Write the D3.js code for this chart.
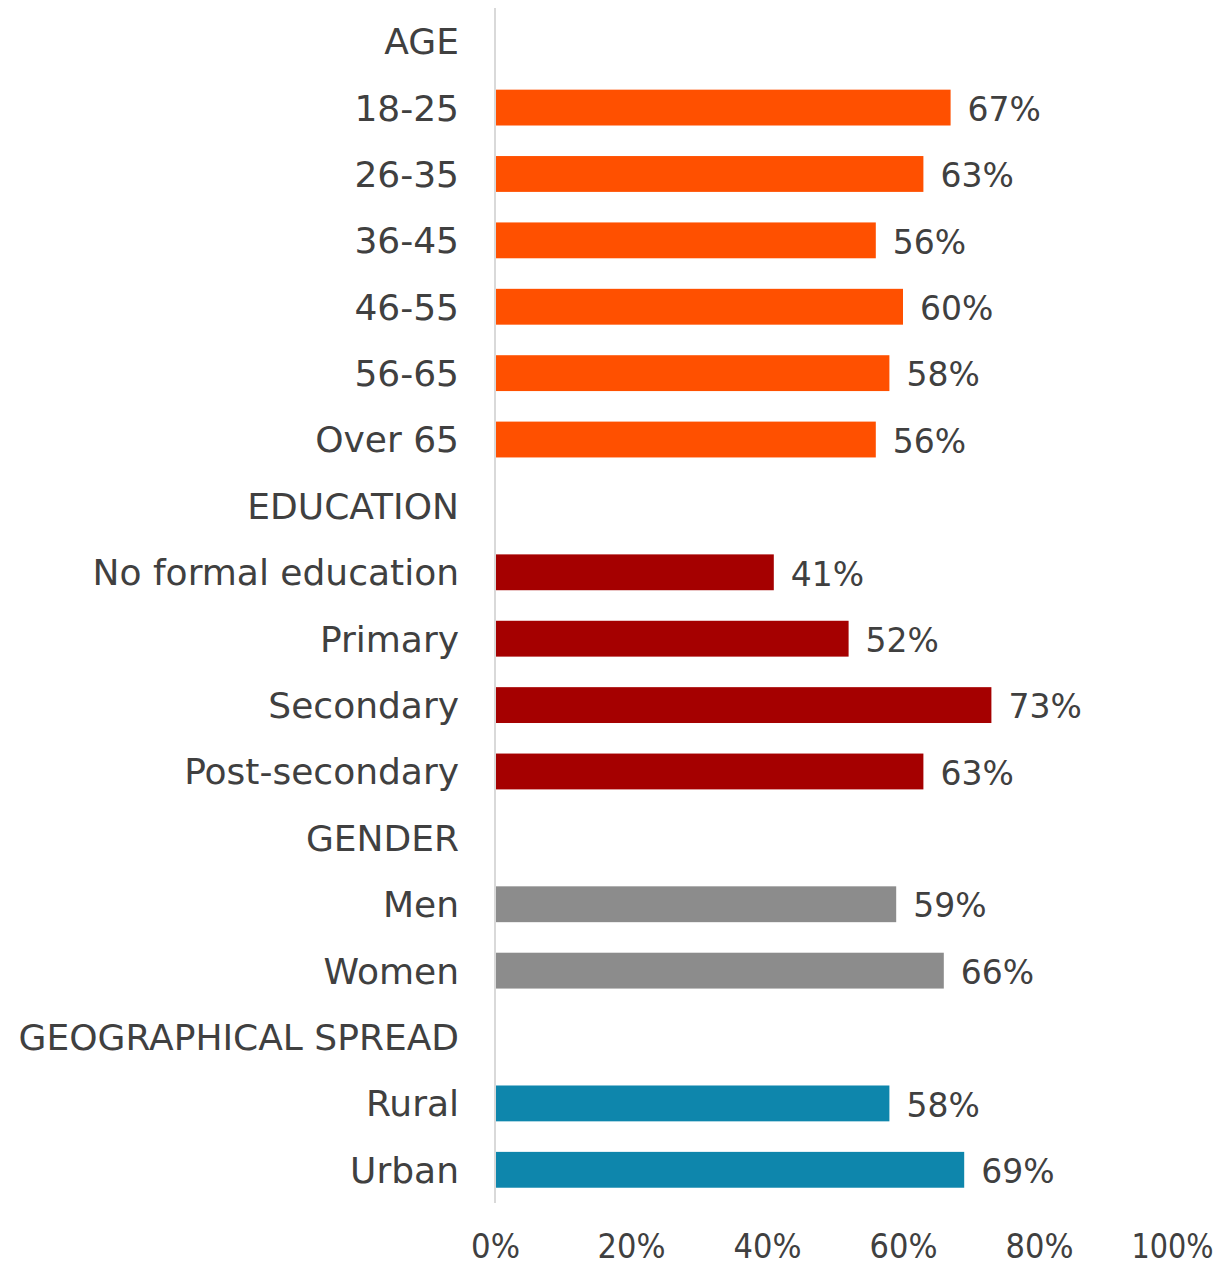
<!DOCTYPE html>
<html><head><meta charset="utf-8">
<script src="https://cdn.jsdelivr.net/npm/d3@7"></script>
<style>body{margin:0;background:#fff}text{font-family:"DejaVu Sans",sans-serif;fill:#404040}</style>
</head><body>
<svg id="c" width="1228" height="1268"></svg>
<script>
const categories = ["AGE","18-25","26-35","36-45","46-55","56-65","Over 65","EDUCATION","No formal education","Primary","Secondary","Post-secondary","GENDER","Men","Women","GEOGRAPHICAL SPREAD","Rural","Urban"];
const values = [null,67,63,56,60,58,56,null,41,52,73,63,null,59,66,null,58,69];
const groups = ["age","age","age","age","age","age","age","edu","edu","edu","edu","edu","gen","gen","gen","geo","geo","geo"];
const tickValues = [0,20,40,60,80,100];
const colors = {age:"#FF5000", edu:"#A50000", gen:"#8C8C8C", geo:"#0E86AC"};

const svg = d3.select("#c");
const x = d3.scaleLinear().domain([0,100]).range([495,1175]);
const y = d3.scaleBand().domain(categories).range([8,1203]).paddingInner(0.46).paddingOuter(0.23);

const rows = categories.map((c,i)=>({c, v:values[i], g:groups[i]}));

svg.append("g").selectAll("rect").data(rows.filter(d=>d.v!=null)).join("rect")
  .attr("x", x(0)+1).attr("y", d=>y(d.c)).attr("height", y.bandwidth())
  .attr("width", d=>x(d.v)-x(0)-1).attr("fill", d=>colors[d.g]);

svg.append("line").attr("x1",x(0)).attr("x2",x(0)).attr("y1",8).attr("y2",1203)
  .attr("stroke","#d9d9d9").attr("stroke-width",2);

svg.append("g").selectAll("text").data(rows).join("text")
  .attr("x", 459).attr("y", d=>y(d.c)+y.bandwidth()/2).attr("dy","0.36em")
  .attr("text-anchor","end").style("font-size","36px").text(d=>d.c);

svg.append("g").selectAll("text").data(rows.filter(d=>d.v!=null)).join("text")
  .attr("x", d=>x(d.v)+17).attr("y", d=>y(d.c)+y.bandwidth()/2).attr("dy","0.4em")
  .style("font-size","33px").text(d=>d.v+"%");

const ax = d3.axisBottom(x).tickValues(tickValues).tickFormat(d=>d+"%").tickSize(0);
const g = svg.append("g").attr("transform","translate(0,1232)").call(ax);
g.select(".domain").remove();
g.selectAll(".tick text").style("font-size","33px").attr("y",0).attr("dy","0.78em");
g.selectAll(".tick text").each(function(){
  const t=d3.select(this);
  const n=t.text().length;
  t.attr("textLength", n===2?49:n===3?68:82).attr("lengthAdjust","spacingAndGlyphs");
});
g.selectAll(".tick").filter(d=>d===100).select("text").attr("dx","-3");
</script>
</body></html>
